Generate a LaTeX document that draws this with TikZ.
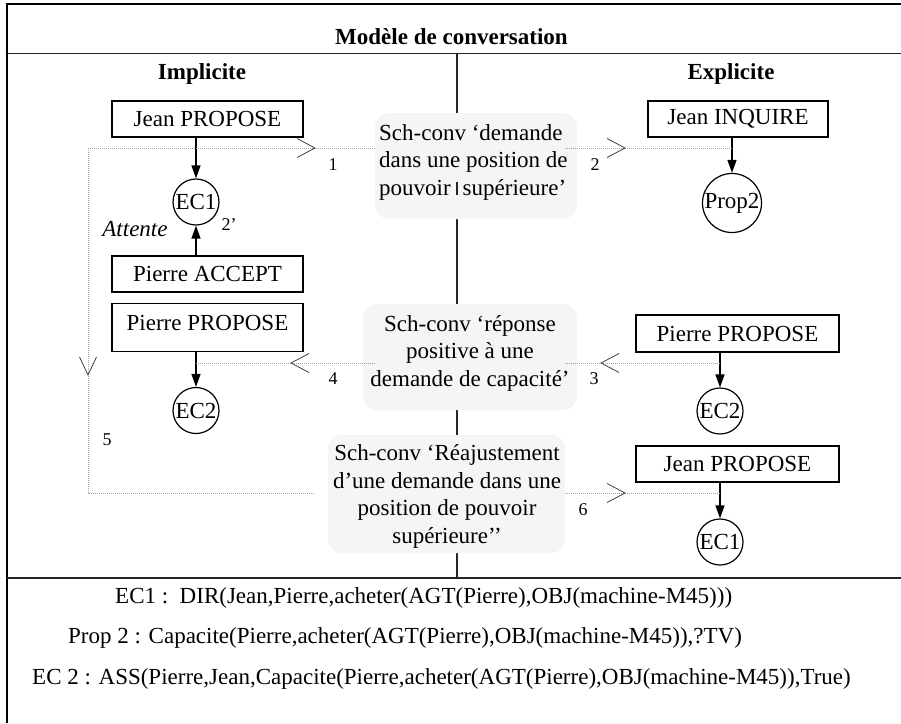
\documentclass[tikz,border=0pt]{standalone}
\usepackage{fontspec}
\setmainfont{Liberation Serif}
\usetikzlibrary{arrows.meta,calc}

\begin{document}
\begin{tikzpicture}[x=1pt,y=-1pt,
  every node/.style={font=\fontsize{23}{27.5}\selectfont, inner sep=0pt},
  headtxt/.style={font=\fontsize{23}{27.5}\selectfont\bfseries},
  numtxt/.style={font=\fontsize{18}{20}\selectfont},
  frame/.style={line width=2.5pt},
  sepline/.style={line width=1.8pt, black!85},
  actbox/.style={draw, line width=1.4pt, minimum height=36pt},
  state/.style={draw, circle, line width=1.2pt, minimum size=46pt},
  schema/.style={fill=gray!8, rounded corners=14pt},
  arr/.style={line width=1.3pt, -{Triangle[length=13pt,width=9pt]}},
  dots/.style={gray!75, line width=0.8pt, dash pattern=on 1pt off 1pt},
  vhead/.style={black!75, line width=0.8pt}
]
\useasboundingbox (0,0) rectangle (901,723);

% outer frame and separators
\draw[frame] (901,4) -- (7,4) -- (7,723);
\draw[sepline] (7,53.5) -- (901,53.5);
\draw[sepline] (7,578) -- (901,578);
\draw[sepline] (457,53.5) -- (457,578);

% conversation schemas
\node[schema, minimum width=202pt, minimum height=106pt] (sch1) at (476,166) {};
\node[schema, minimum width=214pt, minimum height=106pt] (sch2) at (470,357) {};
\node[schema, minimum width=237pt, minimum height=118pt] (sch3) at (446.5,494) {};
\draw[sepline] (457,182) -- (457,195);
\node[align=left, anchor=west] (sch1txt) at (379,162)
  {Sch-conv ‘demande\\dans une position de\\pouvoir\hspace{12pt}supérieure’};
\node[align=center] (sch2txt) at (470,353)
  {Sch-conv ‘réponse\\positive à une\\demande de capacité’};
\node[align=center] (sch3txt) at (447,496.5)
  {Sch-conv ‘Réajustement\\d’une demande dans une\\position de pouvoir\\supérieure’’};

% column headings
\node[headtxt] (title) at (451.5,37) {Modèle de conversation};
\node[headtxt] (impl) at (202,74) {Implicite};
\node[headtxt] (expl) at (731,74) {Explicite};

% implicit side
\node[actbox, minimum width=191pt] (ljp) at (207.5,119) {Jean PROPOSE};
\node[state] (ec1) at (196,202) {EC1};
\node[actbox, minimum width=191pt] (lpa) at (207.5,274) {Pierre ACCEPT};
\node[actbox, minimum width=191pt, minimum height=48pt,
      label={[yshift=4.5pt]center:Pierre PROPOSE}] (lpp) at (207.5,327.5) {};
\node[state] (lec2) at (196,410.5) {EC2};
\node[font=\fontsize{23}{27.5}\selectfont\itshape] (att) at (135,229) {Attente};
\node[numtxt] (n2p) at (229,225) {2’};

\draw[arr] (ljp.south -| ec1) -- (ec1);
\draw[arr] (lpa.north -| ec1) -- (ec1);
\draw[arr] (lpp.south -| lec2) -- (lec2);

% explicit side
\node[actbox, minimum width=180pt] (ji) at (738,119) {Jean INQUIRE};
\node[state, minimum size=59pt] (prop2) at (732,203) {Prop2};
\node[actbox, minimum width=203pt, minimum height=37pt] (rpp) at (737.5,333.5) {Pierre PROPOSE};
\node[state] (rec2) at (720,411) {EC2};
\node[actbox, minimum width=203pt] (rjp) at (737.5,464) {Jean PROPOSE};
\node[state] (rec1) at (720,542) {EC1};

\draw[arr] (ji.south -| prop2) -- (prop2);
\draw[arr] (rpp.south -| rec2) -- (rec2);
\draw[arr] (rjp.south -| rec1) -- (rec1);

% dotted links between acts and schemas
\coordinate (c1) at (88,148);
\coordinate (c2) at (88,493);
\coordinate (e5) at (315,493);
\coordinate (y34) at (0,363);
\draw[dots] (c1) -- (sch1.west |- c1);
\draw[dots] (c1) -- (c2) -- (e5);
\draw[dots] ([xshift=-12pt]sch1.east |- c1) -- (prop2 |- c1);
\draw[dots] (rec2 |- y34) -- ([xshift=-12pt]sch2.east |- y34);
\draw[dots] ([xshift=12pt]sch2.west |- y34) -- (lec2 |- y34);
\draw[dots] (sch3.east |- c2) -- (rec1 |- c2);

% open heads on the dotted links
\coordinate (h1) at (315,148);
\coordinate (h2) at (625,148);
\coordinate (h3) at (601,363);
\coordinate (h4) at (291,363);
\coordinate (h5) at (88,375);
\coordinate (h6) at (625,493);
\draw[vhead] ($(h1)+(-18,-9.5)$) -- (h1) -- ($(h1)+(-18,9.5)$);
\draw[vhead] ($(h2)+(-18,-9.5)$) -- (h2) -- ($(h2)+(-18,9.5)$);
\draw[vhead] ($(h3)+(18,-9.5)$) -- (h3) -- ($(h3)+(18,9.5)$);
\draw[vhead] ($(h4)+(18,-9.5)$) -- (h4) -- ($(h4)+(18,9.5)$);
\draw[vhead] ($(h5)+(-8.5,-18)$) -- (h5) -- ($(h5)+(8.5,-18)$);
\draw[vhead] ($(h6)+(-18,-9.5)$) -- (h6) -- ($(h6)+(-18,9.5)$);

\node[numtxt] (n1) at (333,165) {1};
\node[numtxt] (n2) at (595,165) {2};
\node[numtxt] (n3) at (594,379) {3};
\node[numtxt] (n4) at (333,379) {4};
\node[numtxt] (n5) at (107,440) {5};
\node[numtxt] (n6) at (583,510) {6};

% formulas
\node[anchor=base west] (f1) at (115,603.5) {EC1 :\ \ DIR(Jean,Pierre,acheter(AGT(Pierre),OBJ(machine-M45)))};
\node[anchor=base west] (f2) at (68,643.5) {Prop 2 : Capacite(Pierre,acheter(AGT(Pierre),OBJ(machine-M45)),?TV)};
\node[anchor=base west] (f3) at (32,684.5) {EC 2 : ASS(Pierre,Jean,Capacite(Pierre,acheter(AGT(Pierre),OBJ(machine-M45)),True)};
\end{tikzpicture}
\end{document}
